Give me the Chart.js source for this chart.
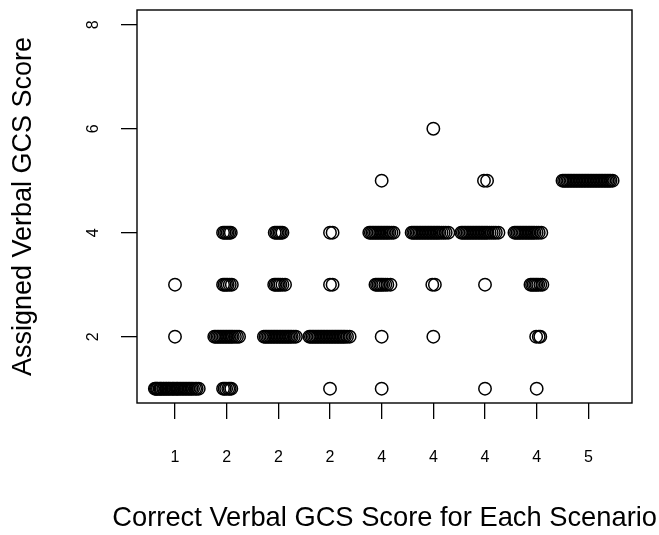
<!DOCTYPE html>
<html>
<head>
<meta charset="utf-8">
<script src="https://cdn.jsdelivr.net/npm/chart.js@4.4.1/dist/chart.umd.min.js"></script>
<style>
  html, body { margin: 0; padding: 0; background: #ffffff; }
  #wrap { width: 659px; height: 535px; position: relative; }
</style>
</head>
<body>
<div id="wrap"><canvas id="c"></canvas></div>
<script>
// Correct verbal GCS score for each of the 9 scenarios (x tick labels)
const correctScores = ["1", "2", "2", "2", "4", "4", "4", "4", "5"];
const yTicks = [2, 4, 6, 8];

// Jittered scenario positions of the responses, grouped by the assigned score
const assigned1 = [0.61, 0.63, 0.65, 0.67, 0.70, 0.72, 0.74, 0.77, 0.79, 0.82, 0.84, 0.87, 0.89, 0.92, 0.95, 0.97,
                   1.00, 1.03, 1.05, 1.08, 1.11, 1.14, 1.17, 1.20, 1.23, 1.26, 1.29, 1.32, 1.35, 1.39, 1.42, 1.46,
                   1.93, 1.96, 1.99, 2.03, 2.06, 2.09,
                   4.00, 5.00, 7.00, 8.00];
const assigned2 = [1.00,
                   1.76, 1.79, 1.82, 1.85, 1.88, 1.91, 1.94, 1.97, 2.00, 2.03, 2.06, 2.09, 2.12, 2.16, 2.20, 2.24,
                   2.72, 2.75, 2.78, 2.81, 2.84, 2.87, 2.90, 2.93, 2.96, 2.99, 3.02, 3.05, 3.08, 3.11, 3.14, 3.17, 3.20, 3.23, 3.26, 3.30, 3.34,
                   3.60, 3.63, 3.66, 3.69, 3.72, 3.75, 3.78, 3.81, 3.84, 3.87, 3.90, 3.93, 3.96, 3.99, 4.02, 4.05, 4.08, 4.11, 4.14, 4.17, 4.20, 4.23, 4.26, 4.29, 4.33, 4.38,
                   5.00, 6.00, 7.99, 8.04, 8.07];
const assigned3 = [1.00,
                   1.93, 1.96, 1.99, 2.02, 2.06, 2.10,
                   2.92, 2.95, 2.98, 3.01, 3.04, 3.08, 3.13,
                   4.00, 4.05,
                   4.88, 4.91, 4.94, 4.97, 5.00, 5.03, 5.07, 5.11, 5.17,
                   5.98, 6.03,
                   7.00,
                   7.88, 7.91, 7.94, 7.97, 8.00, 8.03, 8.07, 8.11];
const assigned4 = [1.93, 1.96, 1.99, 2.02, 2.05, 2.08,
                   2.93, 2.96, 2.99, 3.02, 3.05, 3.08,
                   4.00, 4.05,
                   4.76, 4.79, 4.82, 4.85, 4.88, 4.91, 4.94, 4.97, 5.00, 5.03, 5.06, 5.09, 5.12, 5.15, 5.19, 5.23,
                   5.58, 5.61, 5.64, 5.67, 5.70, 5.73, 5.76, 5.79, 5.82, 5.85, 5.88, 5.91, 5.94, 5.97, 6.00, 6.03, 6.06, 6.09, 6.12, 6.16, 6.20, 6.24, 6.29,
                   6.54, 6.57, 6.60, 6.63, 6.66, 6.69, 6.72, 6.75, 6.78, 6.81, 6.84, 6.87, 6.90, 6.93, 6.96, 6.99, 7.02, 7.05, 7.09, 7.13, 7.17, 7.21, 7.26,
                   7.57, 7.60, 7.63, 7.66, 7.69, 7.72, 7.75, 7.78, 7.81, 7.84, 7.87, 7.90, 7.93, 7.96, 8.00, 8.04, 8.09];
const assigned5 = [5.00,
                   6.98, 7.04,
                   8.50, 8.53, 8.56, 8.59, 8.62, 8.65, 8.68, 8.71, 8.74, 8.77, 8.80, 8.83, 8.86, 8.89, 8.92, 8.95, 8.98,
                   9.01, 9.04, 9.07, 9.10, 9.13, 9.16, 9.19, 9.22, 9.25, 9.28, 9.31, 9.34, 9.37, 9.40, 9.43, 9.47];
const assigned6 = [6.00];

const groups = [
  { score: 1, xs: assigned1 },
  { score: 2, xs: assigned2 },
  { score: 3, xs: assigned3 },
  { score: 4, xs: assigned4 },
  { score: 5, xs: assigned5 },
  { score: 6, xs: assigned6 }
];

const datasets = groups.map(g => ({
  label: "Assigned " + g.score,
  data: g.xs.map(x => ({ x: x, y: g.score })),
  pointStyle: 'circle',
  pointRadius: 6.2,
  pointHoverRadius: 6.2,
  pointBorderWidth: 1.5,
  pointBorderColor: '#000000',
  pointBackgroundColor: 'rgba(0,0,0,0)',
  showLine: false
}));

const boxPlugin = {
  id: 'box',
  afterDatasetsDraw(chart) {
    const a = chart.chartArea;
    const ctx = chart.ctx;
    ctx.save();
    ctx.strokeStyle = '#000000';
    ctx.lineWidth = 1.4;
    ctx.strokeRect(a.left, a.top, a.right - a.left, a.bottom - a.top);
    ctx.restore();
  }
};

const fontFamily = '"Liberation Sans", Arial, Helvetica, sans-serif';
const titleLineHeight = 32.4;

new Chart(document.getElementById('c'), {
  type: 'scatter',
  data: { datasets: datasets },
  plugins: [boxPlugin],
  options: {
    responsive: true,
    maintainAspectRatio: false,
    animation: false,
    events: [],
    layout: { padding: { top: 10, right: 2, left: 0, bottom: 0 } },
    plugins: {
      legend: { display: false },
      tooltip: { enabled: false },
      title: {
        display: true,
        position: 'bottom',
        align: 'end',
        text: 'Correct Verbal GCS Score for Each Scenario',
        color: '#000000',
        font: { family: fontFamily, size: 27.3, weight: 'normal', lineHeight: titleLineHeight + 'px' },
        padding: { top: 0, bottom: 0 }
      }
    },
    scales: {
      x: {
        type: 'linear',
        position: 'bottom',
        min: 0.2646,
        max: 9.845,
        afterBuildTicks(scale) {
          scale.ticks = correctScores.map((c, i) => ({ value: i + 1 }));
        },
        afterFit(scale) {
          scale.height = 132 - titleLineHeight;
          scale.paddingLeft = 0;
          scale.paddingRight = 0;
        },
        border: { display: false },
        grid: {
          display: true,
          drawOnChartArea: false,
          drawTicks: true,
          tickLength: 16,
          color: '#000000',
          lineWidth: 1.3
        },
        ticks: {
          color: '#000000',
          font: { family: fontFamily, size: 16 },
          padding: 29,
          maxRotation: 0,
          minRotation: 0,
          autoSkip: false,
          callback: (v) => correctScores[Math.round(v) - 1]
        }
      },
      y: {
        type: 'linear',
        position: 'left',
        min: 0.725,
        max: 8.283,
        afterBuildTicks(scale) {
          scale.ticks = yTicks.map(v => ({ value: v }));
        },
        afterFit(scale) {
          scale.width = 137;
          scale.paddingTop = 0;
          scale.paddingBottom = 0;
        },
        border: { display: false },
        grid: {
          display: true,
          drawOnChartArea: false,
          drawTicks: true,
          tickLength: 16,
          color: '#000000',
          lineWidth: 1.3
        },
        ticks: {
          color: '#000000',
          font: { family: fontFamily, size: 16 },
          padding: 23,
          minRotation: 90,
          maxRotation: 90,
          crossAlign: 'center',
          autoSkip: false,
          callback: (v) => String(v)
        },
        title: {
          display: true,
          text: 'Assigned Verbal GCS Score',
          color: '#000000',
          font: { family: fontFamily, size: 27 },
          padding: { top: 7, bottom: 0 }
        }
      },
      y2: {
        type: 'linear',
        position: 'right',
        display: true,
        min: 0.725,
        max: 8.283,
        afterFit(scale) {
          scale.width = 25;
          scale.paddingTop = 0;
          scale.paddingBottom = 0;
        },
        border: { display: false },
        grid: { display: false, drawTicks: false },
        ticks: { display: false }
      }
    }
  }
});
</script>
</body>
</html>
